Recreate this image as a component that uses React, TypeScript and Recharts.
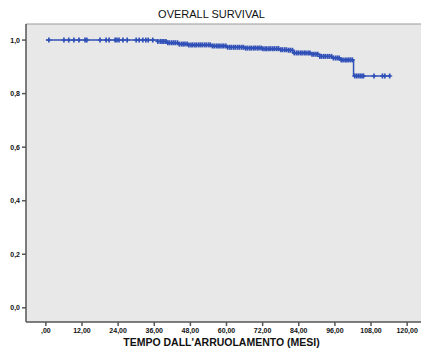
import { ComposedChart, Line, Scatter, XAxis, YAxis, CartesianGrid, ReferenceLine } from 'recharts';

// Kaplan-Meier steps (months, survival)
const stepTimes = [0, 37, 40, 44, 47, 55, 60, 66, 72, 78, 80, 82, 88, 91, 95, 97.7, 102.2, 114.5];
const stepSurv = [1, 0.995, 0.99, 0.985, 0.982, 0.978, 0.973, 0.97, 0.968, 0.964, 0.962, 0.952, 0.947, 0.939, 0.933, 0.926, 0.866, 0.866];

// censored observations (months)
const censorTimes = [
    1, 6, 7.6, 9.3, 11, 13, 13.6, 18, 20, 21, 23, 23.6, 24.3, 25.6, 27, 30, 31, 32.2, 33.2, 34, 35.5, 37.2,
    38, 38.6, 39.2, 39.9, 40.5, 41.1, 41.8, 42.4, 43, 43.7, 44.3, 45, 45.6, 46.2, 46.9, 47.5, 48.2, 48.8,
    49.5, 50.1, 50.8, 51.4, 52, 52.7, 53.3, 54, 54.6, 55.3, 55.9, 56.6, 57.2, 57.8, 58.5, 59.1, 59.8, 60.4,
    61.1, 61.7, 62.4, 63, 63.7, 64.3, 65, 65.6, 66.3, 66.9, 67.6, 68.2, 68.9, 69.5, 70.2, 70.8, 71.5, 72.1,
    72.8, 73.4, 74.1, 74.7, 75.4, 76, 76.7, 77.3, 78, 78.6, 79.3, 79.9, 80.6, 81.2, 81.9, 82.5, 83.2, 83.8,
    84.5, 85.1, 85.8, 86.4, 87.1, 87.7, 88.4, 89, 89.7, 90.3, 91, 91.6, 92.3, 92.9, 93.6, 94.2, 94.9, 95.5,
    96.2, 96.8, 97.4, 98.1, 98.7, 99.4, 100, 100.6, 101.2, 101.8,
    102.6, 103.2, 103.8, 104.4, 105, 105.5, 109, 111.8, 112.6, 114.2,
];

const xTicks = [0, 12, 24, 36, 48, 60, 72, 84, 96, 108, 120];
const yTicks = [0, 0.2, 0.4, 0.6, 0.8, 1.0];

const BLUE = '#3050b8';
const FONT = '"Liberation Sans", Arial, sans-serif';

const survAt = (t: number) => {
    let s = stepSurv[0];
    for (let i = 0; i < stepTimes.length; i++) {
        if (stepTimes[i] <= t) s = stepSurv[i];
    }
    return s;
};

const curve = stepTimes.map((t, i) => ({ t, s: stepSurv[i] }));
const censored = censorTimes.map((t) => ({ t, c: survAt(t) }));

// censor mark
const Plus = (props: any) => {
    const { cx, cy } = props;
    return (
        <g stroke={BLUE}>
            <line x1={cx - 2.5} x2={cx + 2.5} y1={cy} y2={cy} strokeWidth={1.3} />
            <line x1={cx} x2={cx} y1={cy - 2.5} y2={cy + 2.5} strokeWidth={1.7} />
        </g>
    );
};

const fmtX = (v: number) => (v === 0 ? ',00' : v.toFixed(2).replace('.', ','));
const fmtY = (v: number) => v.toFixed(1).replace('.', ',');

const tickStyle = { fontSize: 7, fill: '#111', fontFamily: FONT, fontWeight: 'bold' as const };

export default function App() {
    return (
        <div style={{ position: 'absolute', left: 0, top: 0, width: 423, height: 352, background: '#fff', fontFamily: FONT }}>
            <div style={{ position: 'absolute', top: 8, width: 423, textAlign: 'center', fontSize: 11, color: '#111' }}>
                OVERALL SURVIVAL
            </div>
            <ComposedChart width={423} height={352} margin={{ top: 24, right: 2, bottom: 10, left: 0 }}>
                <CartesianGrid fill="#e8e8e8" horizontal={false} vertical={false} />
                <ReferenceLine y={1.06} stroke="#999" strokeWidth={1} />
                <XAxis
                    type="number"
                    dataKey="t"
                    domain={[-6.6, 124.6]}
                    ticks={xTicks}
                    tickFormatter={fmtX}
                    allowDataOverflow
                    height={20}
                    stroke="#555"
                    strokeWidth={1.5}
                    tickSize={4}
                    tick={tickStyle}
                />
                <YAxis
                    type="number"
                    domain={[-0.053, 1.06]}
                    ticks={yTicks}
                    tickFormatter={fmtY}
                    allowDataOverflow
                    width={26}
                    stroke="#555"
                    strokeWidth={1.5}
                    tickSize={4}
                    tick={tickStyle}
                />
                <Line
                    data={curve}
                    dataKey="s"
                    type="stepAfter"
                    stroke={BLUE}
                    strokeWidth={1.5}
                    dot={false}
                    isAnimationActive={false}
                />
                <Scatter data={censored} dataKey="c" shape={<Plus />} isAnimationActive={false} />
            </ComposedChart>
            <div style={{ position: 'absolute', top: 336, left: 10, width: 423, textAlign: 'center', fontSize: 10.5, fontWeight: 'bold', color: '#111' }}>
                TEMPO DALL'ARRUOLAMENTO (MESI)
            </div>
        </div>
    );
}
